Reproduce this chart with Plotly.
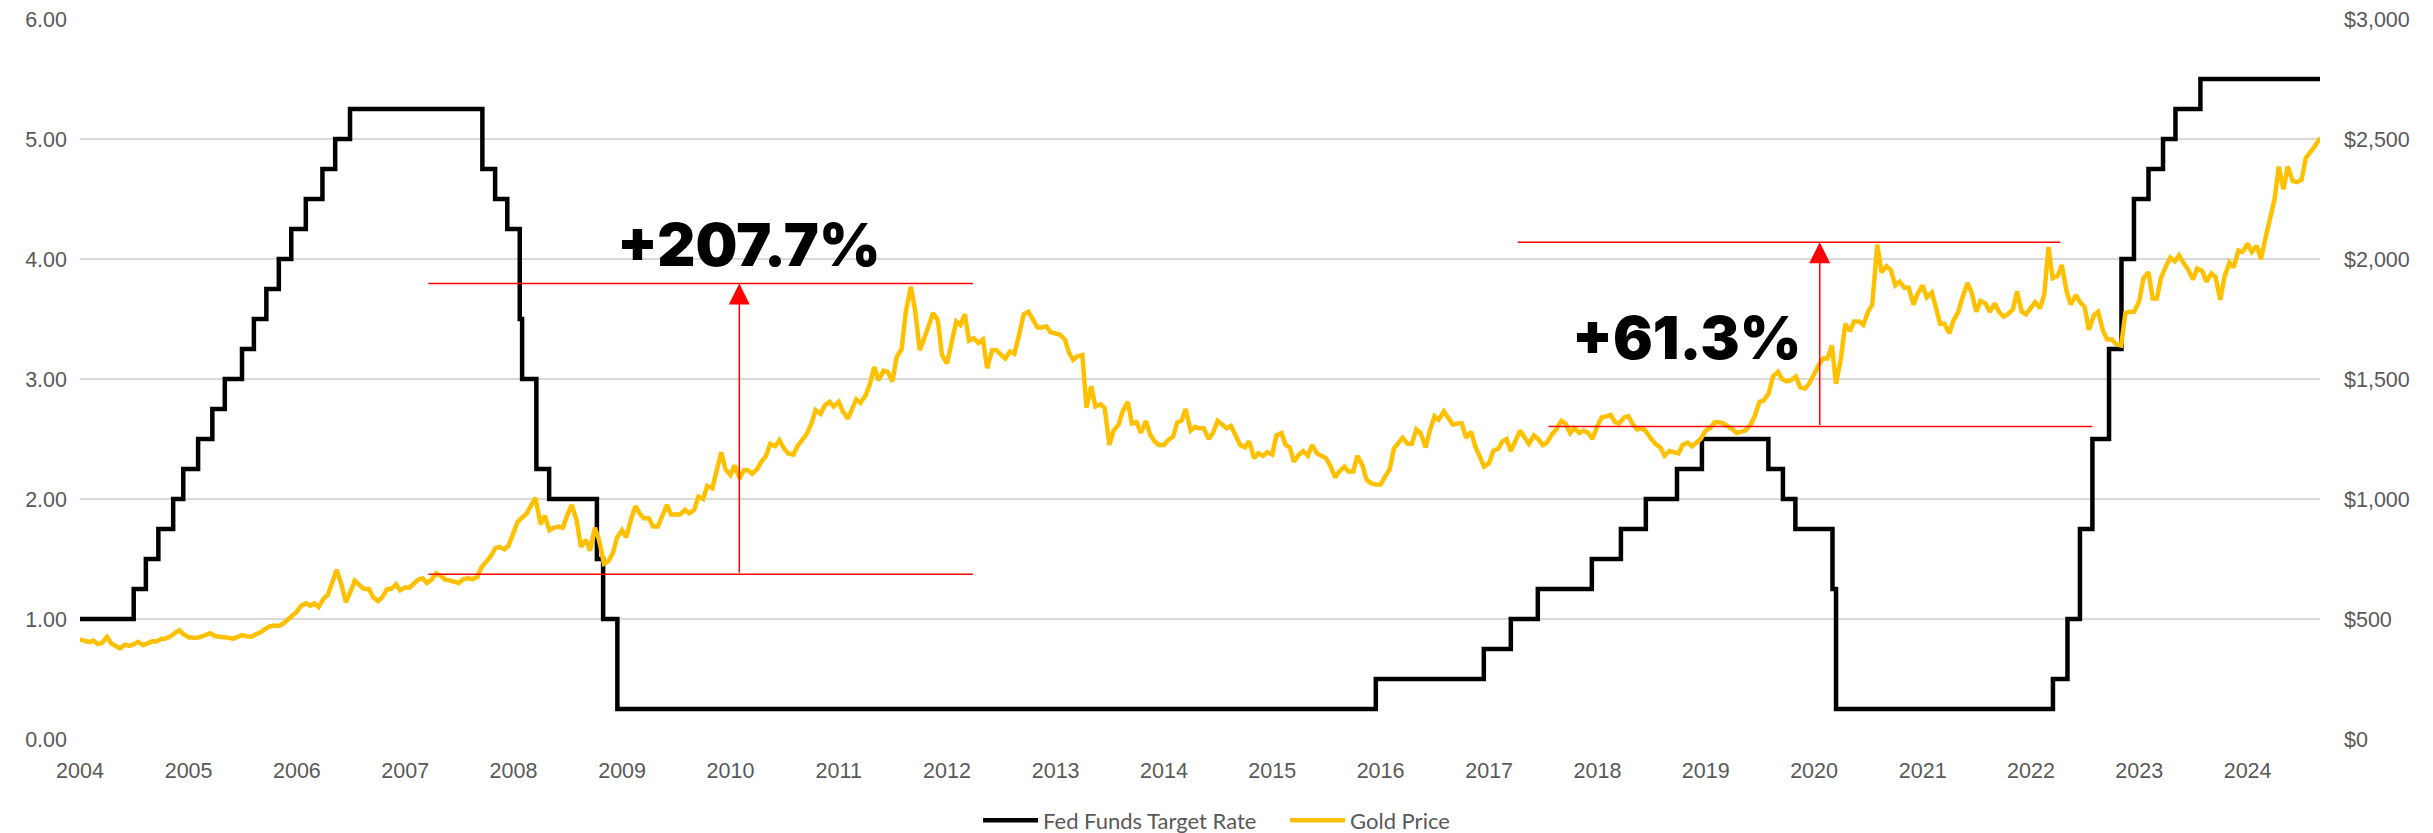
import pandas as pd
import plotly.graph_objects as go

# ---------------- Data ----------------
# Fed funds target rate (upper bound), change dates and new levels
fed_dates = ["2004-01-01", "2004-06-30", "2004-08-10", "2004-09-21", "2004-11-10", "2004-12-14",
             "2005-02-02", "2005-03-22", "2005-05-03", "2005-06-30", "2005-08-09", "2005-09-20",
             "2005-11-01", "2005-12-13", "2006-01-31", "2006-03-28", "2006-05-10", "2006-06-29",
             "2007-09-18", "2007-10-31", "2007-12-11", "2008-01-22", "2008-01-30", "2008-03-18",
             "2008-04-30", "2008-10-08", "2008-10-29", "2008-12-16", "2015-12-16", "2016-12-14",
             "2017-03-15", "2017-06-14", "2017-12-13", "2018-03-21", "2018-06-13", "2018-09-26",
             "2018-12-19", "2019-07-31", "2019-09-18", "2019-10-30", "2020-03-03", "2020-03-15",
             "2022-03-16", "2022-05-04", "2022-06-15", "2022-07-27", "2022-09-21", "2022-11-02",
             "2022-12-14", "2023-02-01", "2023-03-22", "2023-05-03", "2023-07-26", "2024-09-01"]
fed_rate = [1.00, 1.25, 1.50, 1.75, 2.00, 2.25,
            2.50, 2.75, 3.00, 3.25, 3.50, 3.75,
            4.00, 4.25, 4.50, 4.75, 5.00, 5.25,
            4.75, 4.50, 4.25, 3.50, 3.00, 2.25,
            2.00, 1.50, 1.00, 0.25, 0.50, 0.75,
            1.00, 1.25, 1.50, 1.75, 2.00, 2.25,
            2.50, 2.25, 2.00, 1.75, 1.25, 0.25,
            0.50, 1.00, 1.75, 2.50, 3.25, 4.00,
            4.50, 4.75, 5.00, 5.25, 5.50, 5.50]

# Gold price (USD/oz) at the 1st and 15th of each month
gold_2004 = [415, 410, 404, 410, 396, 400, 426, 398, 389, 378, 393, 388, 395, 405, 391, 400, 407, 406, 417, 419, 427, 441, 453, 437]
gold_2005 = [424, 422, 422, 428, 434, 441, 428, 426, 428, 422, 418, 424, 433, 428, 426, 436, 445, 458, 469, 473, 471, 480, 498, 512]
gold_2006 = [530, 555, 565, 555, 565, 550, 585, 600, 655, 705, 640, 570, 615, 660, 640, 625, 625, 590, 575, 590, 625, 625, 645, 620]
gold_2007 = [632, 630, 650, 665, 670, 650, 665, 690, 680, 665, 660, 655, 650, 665, 670, 665, 675, 715, 740, 760, 795, 800, 790, 805]
gold_2008 = [860, 905, 925, 940, 975, 1005, 895, 930, 870, 880, 885, 880, 935, 975, 910, 800, 830, 785, 880, 830, 730, 740, 775, 840]
gold_2009 = [870, 840, 920, 970, 940, 920, 920, 885, 885, 925, 975, 935, 935, 935, 955, 940, 955, 1010, 1000, 1055, 1045, 1115, 1195, 1125]
gold_2010 = [1100, 1140, 1085, 1120, 1120, 1105, 1125, 1155, 1180, 1230, 1220, 1245, 1210, 1190, 1185, 1220, 1250, 1270, 1315, 1370, 1355, 1390, 1405, 1385]
gold_2011 = [1405, 1365, 1335, 1375, 1415, 1400, 1430, 1475, 1550, 1495, 1535, 1530, 1490, 1590, 1625, 1780, 1885, 1790, 1620, 1665, 1725, 1775, 1745, 1600]
gold_2012 = [1565, 1650, 1740, 1725, 1770, 1660, 1670, 1650, 1665, 1545, 1620, 1620, 1600, 1585, 1615, 1605, 1690, 1770, 1780, 1750, 1715, 1715, 1720, 1695]
gold_2013 = [1690, 1685, 1665, 1610, 1580, 1595, 1600, 1380, 1470, 1385, 1395, 1380, 1225, 1285, 1310, 1365, 1405, 1315, 1320, 1275, 1325, 1270, 1240, 1225]
gold_2014 = [1225, 1245, 1260, 1320, 1325, 1375, 1285, 1300, 1295, 1295, 1250, 1275, 1325, 1310, 1295, 1305, 1265, 1225, 1215, 1240, 1170, 1190, 1180, 1195]
gold_2015 = [1185, 1265, 1275, 1225, 1215, 1155, 1185, 1200, 1180, 1225, 1190, 1180, 1170, 1140, 1090, 1115, 1135, 1115, 1115, 1180, 1140, 1080, 1065, 1060]
gold_2016 = [1060, 1090, 1125, 1210, 1235, 1255, 1230, 1230, 1290, 1275, 1215, 1285, 1345, 1330, 1365, 1340, 1310, 1315, 1315, 1255, 1280, 1220, 1175, 1135]
gold_2017 = [1150, 1200, 1210, 1240, 1250, 1200, 1245, 1285, 1255, 1230, 1265, 1250, 1225, 1235, 1270, 1290, 1325, 1315, 1275, 1295, 1275, 1285, 1275, 1250]
gold_2018 = [1305, 1340, 1345, 1350, 1320, 1315, 1340, 1345, 1310, 1290, 1295, 1280, 1250, 1230, 1215, 1180, 1200, 1195, 1190, 1225, 1235, 1220, 1235, 1250]
gold_2019 = [1285, 1295, 1320, 1320, 1315, 1305, 1290, 1275, 1280, 1285, 1310, 1345, 1405, 1410, 1440, 1510, 1530, 1500, 1490, 1495, 1510, 1465, 1460, 1480]
gold_2020 = [1520, 1555, 1585, 1585, 1640, 1480, 1590, 1730, 1700, 1740, 1740, 1725, 1780, 1810, 2060, 1945, 1970, 1955, 1890, 1905, 1880, 1880, 1810, 1855]
gold_2021 = [1890, 1840, 1860, 1795, 1730, 1730, 1690, 1745, 1780, 1840, 1900, 1860, 1780, 1825, 1815, 1780, 1815, 1780, 1760, 1770, 1790, 1865, 1780, 1770]
gold_2022 = [1800, 1820, 1795, 1855, 2050, 1920, 1930, 1975, 1865, 1810, 1850, 1820, 1800, 1705, 1765, 1780, 1700, 1665, 1665, 1645, 1640, 1775, 1780, 1780]
gold_2023 = [1825, 1920, 1945, 1835, 1835, 1920, 1970, 2005, 1990, 2015, 1980, 1955, 1915, 1960, 1950, 1905, 1940, 1925, 1830, 1925, 1985, 1965, 2035, 2030]
gold_2024 = [2065, 2030, 2055, 2000, 2085, 2160, 2250, 2385, 2290, 2385, 2325, 2320, 2330, 2420, 2445, 2470, 2505]

gold_price = (gold_2004 + gold_2005 + gold_2006 + gold_2007 + gold_2008 + gold_2009 + gold_2010
              + gold_2011 + gold_2012 + gold_2013 + gold_2014 + gold_2015 + gold_2016 + gold_2017
              + gold_2018 + gold_2019 + gold_2020 + gold_2021 + gold_2022 + gold_2023 + gold_2024)
gold_dates = pd.date_range("2004-01-01", periods=len(gold_price), freq="SMS")

# Gain annotations (gold levels and date spans)
gain_labels = ["+207.7%", "+61.3%"]
gain_label_dates = ["2010-03-03", "2018-10-27"]
gain_label_values = [2060, 1673]
gain_top = [1898, 2070]
gain_bottom = [686, 1302]
gain_top_span = [("2007-03-20", "2012-03-28"), ("2017-04-07", "2022-04-10")]
gain_bottom_span = [("2007-03-20", "2012-03-28"), ("2017-07-20", "2022-07-27")]
gain_arrow_dates = ["2010-01-31", "2020-01-20"]

# ---------------- Figure ----------------
TICK_FONT = dict(family="Liberation Sans, Arial, sans-serif", size=21.5, color="#595959")

fig = go.Figure()
fig.add_trace(go.Scatter(x=fed_dates, y=fed_rate, name="Fed Funds Target Rate",
                         mode="lines", line=dict(color="#000000", width=4.5, shape="hv"),
                         yaxis="y"))
fig.add_trace(go.Scatter(x=gold_dates, y=gold_price, name="Gold Price",
                         mode="lines", line=dict(color="#FFC000", width=4.5),
                         yaxis="y2"))

for i in range(len(gain_labels)):
    fig.add_shape(type="line", xref="x", yref="y2",
                  x0=gain_top_span[i][0], x1=gain_top_span[i][1],
                  y0=gain_top[i], y1=gain_top[i],
                  line=dict(color="#FF0000", width=1.5))
    fig.add_shape(type="line", xref="x", yref="y2",
                  x0=gain_bottom_span[i][0], x1=gain_bottom_span[i][1],
                  y0=gain_bottom[i], y1=gain_bottom[i],
                  line=dict(color="#FF0000", width=1.5))
    fig.add_annotation(x=gain_arrow_dates[i], y=gain_top[i], xref="x", yref="y2",
                       ax=gain_arrow_dates[i], ay=gain_bottom[i], axref="x", ayref="y2",
                       text="", showarrow=True, arrowhead=2, arrowsize=2.8,
                       arrowwidth=1.5, arrowcolor="#FF0000", standoff=0, startstandoff=0)
    fig.add_annotation(x=gain_label_dates[i], y=gain_label_values[i], xref="x", yref="y2",
                       text=gain_labels[i], showarrow=False,
                       font=dict(family="Inter, Lato, Roboto, sans-serif", size=59,
                                 color="#000000", weight=900))

fig.update_layout(
    width=2433, height=833,
    paper_bgcolor="white", plot_bgcolor="white",
    margin=dict(l=80, r=113, t=19, b=94, autoexpand=False),
    showlegend=True,
    legend=dict(orientation="h", xref="container", yref="container",
                x=0.402, xanchor="left", y=0.015, yanchor="middle",
                font=dict(family="Lato, Roboto, sans-serif", size=22, color="#595959"),
                entrywidthmode="pixels", entrywidth=237,
                itemwidth=55, bgcolor="rgba(0,0,0,0)"),
    xaxis=dict(type="date", range=["2004-01-01", "2024-09-01"],
               tick0="2004-01-01", dtick="M12", tickformat="%Y",
               showgrid=False, zeroline=False, showline=False, ticks="",
               tickfont=TICK_FONT, ticklabelstandoff=16, automargin=False),
    yaxis=dict(range=[0, 6], dtick=1, tickformat=".2f", showgrid=True,
               gridcolor="#D9D9D9", gridwidth=2, zeroline=False, showline=False,
               tickfont=TICK_FONT, ticks="", ticklabelstandoff=12, automargin=False),
    yaxis2=dict(range=[0, 3000], dtick=500, tickprefix="$", tickformat=",.0f",
                overlaying="y", side="right", showgrid=False, zeroline=False,
                showline=False, tickfont=TICK_FONT, ticks="", ticklabelstandoff=23,
                automargin=False),
)

fig.write_html("out.html", config={"displayModeBar": False},
               post_script="document.body.style.margin='0px';")
